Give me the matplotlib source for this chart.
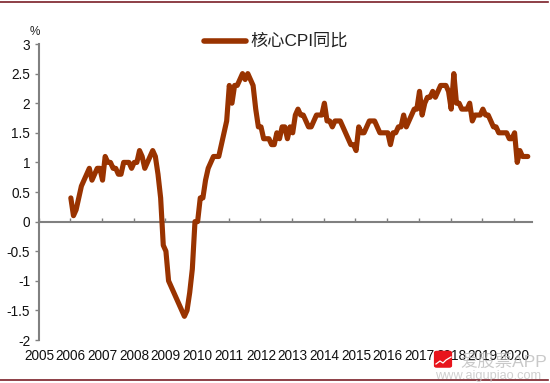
import matplotlib
matplotlib.use("Agg")
import matplotlib.pyplot as plt
from matplotlib.patches import FancyBboxPatch
from matplotlib.lines import Line2D

plt.rcParams['font.family'] = ['Liberation Sans', 'Noto Sans CJK SC', 'DejaVu Sans']

series_name = '核心CPI同比'
start_year = 2006
core_cpi = [
    0.4, 0.1, 0.2, 0.4, 0.6, 0.7, 0.8, 0.9, 0.7, 0.8, 0.9, 0.9,      # 2006
    0.7, 1.1, 1.0, 1.0, 0.9, 0.9, 0.8, 0.8, 1.0, 1.0, 1.0, 0.9,      # 2007
    1.0, 1.0, 1.2, 1.1, 0.9, 1.0, 1.1, 1.2, 1.1, 0.8, 0.4, -0.4,     # 2008
    -0.5, -1.0, -1.1, -1.2, -1.3, -1.4, -1.5, -1.6, -1.5, -1.2, -0.8, 0.0,  # 2009
    0.0, 0.4, 0.4, 0.7, 0.9, 1.0, 1.1, 1.1, 1.1, 1.3, 1.5, 1.7,      # 2010
    2.3, 2.0, 2.3, 2.3, 2.4, 2.5, 2.4, 2.5, 2.4, 2.3, 1.9, 1.6,      # 2011
    1.6, 1.4, 1.4, 1.4, 1.3, 1.3, 1.5, 1.4, 1.6, 1.6, 1.4, 1.6,      # 2012
    1.5, 1.8, 1.9, 1.8, 1.8, 1.7, 1.6, 1.6, 1.7, 1.8, 1.8, 1.8,      # 2013
    2.0, 1.7, 1.7, 1.6, 1.7, 1.7, 1.7, 1.6, 1.5, 1.4, 1.3, 1.3,      # 2014
    1.2, 1.6, 1.5, 1.5, 1.6, 1.7, 1.7, 1.7, 1.6, 1.5, 1.5, 1.5,      # 2015
    1.5, 1.3, 1.5, 1.5, 1.6, 1.6, 1.8, 1.6, 1.7, 1.8, 1.9, 1.9,      # 2016
    2.2, 1.8, 2.0, 2.1, 2.1, 2.2, 2.1, 2.2, 2.3, 2.3, 2.3, 2.2,      # 2017
    1.9, 2.5, 2.0, 2.0, 1.9, 1.9, 1.9, 2.0, 1.7, 1.8, 1.8, 1.8,      # 2018
    1.9, 1.8, 1.8, 1.7, 1.6, 1.6, 1.5, 1.5, 1.5, 1.5, 1.4, 1.4,      # 2019
    1.5, 1.0, 1.2, 1.1, 1.1, 1.1,                                    # 2020
]
x_years = list(range(2005, 2021))
y_ticks = [-2, -1.5, -1, -0.5, 0, 0.5, 1, 1.5, 2, 2.5, 3]
y_labels = ['-2', '-1.5', '-1', '-0.5', '0', '0.5', '1', '1.5', '2', '2.5', '3']

W, H = 550, 383
fig = plt.figure(figsize=(W / 100, H / 100), dpi=100, facecolor='white')
ax = fig.add_axes([38.5 / W, 1 - 340 / H, (531.7 - 38.5) / W, (340 - 44) / H])
xs = [start_year + 0.02 + i / 12 for i in range(len(core_cpi))]
ax.plot(xs, core_cpi, color='#993300', lw=3.7, solid_joinstyle='round',
        solid_capstyle='round', clip_on=False, zorder=3)
ax.set_xlim(2005, 2020.56)
ax.set_ylim(-2, 3)
for s in ('top', 'right'):
    ax.spines[s].set_visible(False)
ax.spines['left'].set_color('#808080')
ax.spines['left'].set_linewidth(1.5)
ax.spines['bottom'].set_position(('data', 0))
ax.spines['bottom'].set_color('#808080')
ax.spines['bottom'].set_linewidth(1.5)

ax.set_yticks(y_ticks)
ax.set_yticklabels(y_labels, fontsize=9.8, color='#111111')
ax.tick_params(axis='y', direction='out', length=3, width=1, color='#808080', pad=3)
ax.set_xticks(x_years)
ax.set_xticklabels([])
ax.tick_params(axis='x', direction='in', length=3, width=1, color='#808080')
# Year labels sit below the plot area, not beside the zero line
for yr in x_years:
    ax.annotate(str(yr), xy=(yr, -2), xycoords='data', xytext=(0.5, -16.5),
                textcoords='offset pixels', ha='center', va='center',
                fontsize=9.8, color='#111111', annotation_clip=False)

fig.text(35 / W, 1 - 32 / H, '%', fontsize=8.5, ha='center', va='center', color='#222222')

# Legend
fig.add_artist(Line2D([204 / W, 246 / W], [1 - 41 / H] * 2, color='#993300', lw=4.0,
                      solid_capstyle='round'))
fig.text(250 / W, 1 - 41 / H, series_name, fontsize=12.4, ha='left', va='center', color='#222222')

# Rules at top and bottom
fig.add_artist(Line2D([0, 547.7 / W], [1 - 1.5 / H] * 2, color='#7a1f28', lw=1.2))
fig.add_artist(Line2D([0, 547.7 / W], [1 - 380 / H] * 2, color='#7a1f28', lw=1.2))

# Watermark
fig.add_artist(FancyBboxPatch((435 / W, 1 - 367 / H), 16 / W, 15.5 / H,
                              boxstyle='round,pad=0.002,rounding_size=0.005',
                              transform=fig.transFigure, fc='#e8141c', ec='none', zorder=5))
fig.add_artist(Line2D([436 / W, 440 / W, 443 / W, 446 / W, 451 / W],
                      [1 - 364 / H, 1 - 361 / H, 1 - 363 / H, 1 - 360 / H, 1 - 357 / H],
                      color='white', lw=0.9, zorder=6))
fig.text(460 / W, 1 - 362 / H, '爱股票APP', fontsize=12.5, ha='left', va='center',
         color='#b8b8b8', alpha=0.75, zorder=6)
fig.text(435 / W, 1 - 376 / H, 'www.aigupiao.com', fontsize=9.2, ha='left', va='center',
         color='#c4c4c4', alpha=0.8, zorder=6)

fig.savefig('out.png', dpi=100, facecolor='white')
